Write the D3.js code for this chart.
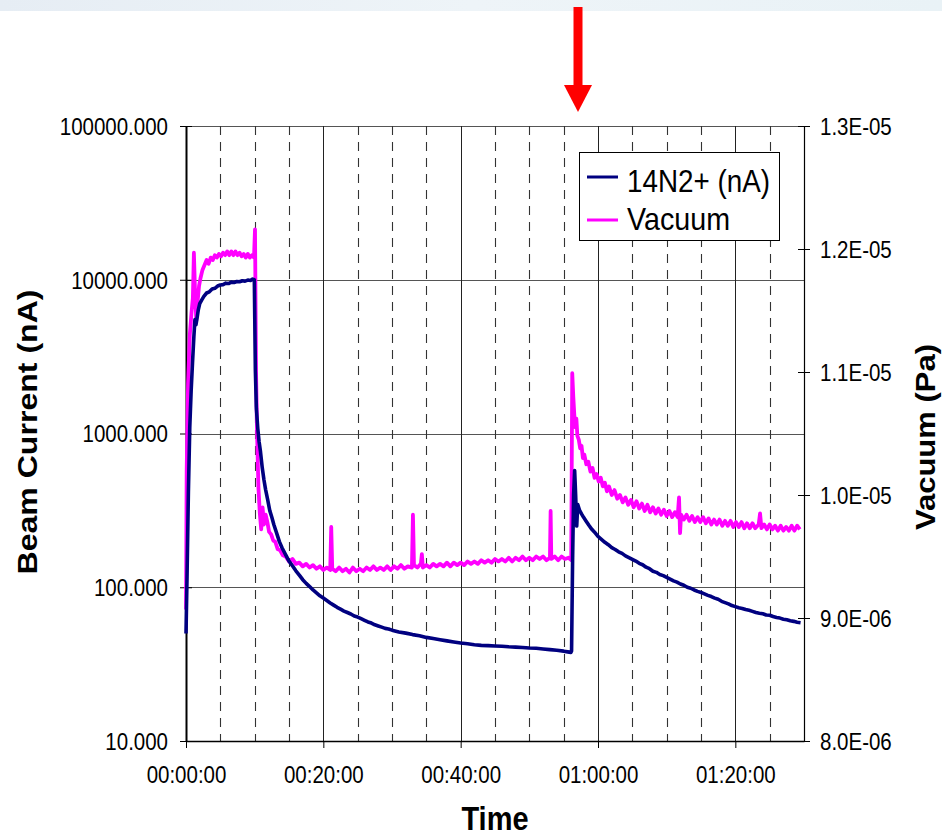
<!DOCTYPE html>
<html>
<head>
<meta charset="utf-8">
<script src="https://cdn.jsdelivr.net/npm/d3@7"></script>
<style>
  body { margin: 0; background: #fff; }
  svg text { font-family: "Liberation Sans", Arial, sans-serif; fill: #000; }
</style>
</head>
<body>
<div id="chart"></div>
<script>
// time in minutes, beam current in nA
var beamCurrent = [
  [0, 50], [0.15, 117], [0.35, 420], [0.55, 1100], [0.75, 1900], [0.95, 2900], [1.15, 4300], [1.3, 5500],
  [1.45, 5100], [1.6, 5600], [1.8, 6400], [2.0, 7000], [2.3, 7400], [2.6, 7800], [3.0, 8200], [3.4, 8350],
  [3.8, 8700], [4.2, 8800], [4.6, 9100], [5.0, 9250], [5.4, 9300], [5.8, 9500], [6.2, 9450], [6.6, 9650],
  [7.0, 9600], [7.4, 9750], [7.8, 9700], [8.2, 9850], [8.6, 9800], [9.0, 9950], [9.4, 9900], [9.7, 10100],
  [9.95, 10000], [10.1, 2600], [10.25, 1450], [10.45, 1080], [10.65, 880], [10.85, 760], [11.1, 600],
  [11.35, 500], [11.6, 430], [11.9, 370], [12.2, 315], [12.5, 285], [12.8, 255], [13.2, 225], [13.6, 198],
  [14.0, 180], [14.5, 163], [15.0, 148], [15.5, 138], [16.0, 128], [16.5, 120], [17.0, 112], [17.5, 106],
  [18.0, 101], [18.5, 96], [19.0, 92], [19.5, 88], [20.0, 85], [20.5, 82], [21.0, 79], [21.5, 76.5],
  [22.0, 74], [22.5, 72], [23.0, 70], [23.5, 68.5], [24.0, 67], [24.5, 65], [25.0, 64], [25.5, 62.5],
  [26.0, 61], [26.5, 59.5], [27.0, 58.5], [27.5, 57], [28.0, 56], [28.5, 55], [29.0, 54], [29.5, 53.5],
  [30, 52.6], [31, 51.2], [32, 50.3], [33, 49.2], [34, 48.4], [35, 47.2], [36, 46.4], [37, 45.6],
  [38, 44.8], [39, 44.1], [40, 43.4], [41, 42.9], [42, 42.3], [43, 41.9], [44, 41.7], [45, 41.5],
  [46, 41.3], [47, 41.0], [48, 40.8], [49, 40.6], [50, 40.3], [51, 40.1], [52, 39.7], [53, 39.3],
  [54, 38.9], [55, 38.4], [55.6, 38.0], [56.05, 37.7], [56.15, 38.5], [56.3, 150], [56.45, 400],
  [56.6, 575], [56.75, 390], [56.9, 250], [57.05, 345], [57.3, 318], [57.6, 300], [57.9, 285], [58.3, 268],
  [58.7, 252], [59.1, 238], [59.5, 228], [60.0, 214], [60.5, 205], [61.0, 196], [61.5, 189], [62.0, 181],
  [62.5, 176], [63.0, 170], [63.5, 166], [64.0, 160], [64.5, 156], [65.0, 152], [65.5, 148], [66.0, 143],
  [66.5, 140], [67.0, 135], [67.5, 132], [68.0, 127], [68.5, 125], [69.0, 121], [69.5, 119], [70.0, 116],
  [70.5, 113], [71.0, 110], [71.5, 108], [72.0, 105], [72.5, 103], [73.0, 100], [73.5, 98.5], [74.0, 96],
  [74.5, 94], [75.0, 92.5], [75.5, 90.5], [76.0, 88.5], [76.5, 87], [77.0, 85], [77.5, 83.5], [78.0, 81],
  [78.5, 79.5], [79.0, 78], [79.5, 76], [80.0, 74.8], [80.5, 73.5], [81.0, 72.8], [81.5, 71.6], [82.0, 70.8],
  [82.5, 69.7], [83.0, 68.5], [83.5, 67.8], [84.0, 67.2], [84.5, 66], [85.0, 65.8], [85.5, 64.5], [86.0, 63.6],
  [86.5, 63], [87.0, 62], [87.5, 61.4], [88.0, 60.5], [88.5, 60], [89.0, 59.2], [89.5, 58.8]
];

// time in minutes, vacuum in Pa
var vacuum = [
  [0, 9.07e-6], [0.1, 1.02e-5], [0.3, 1.09e-5], [0.55, 1.13e-5], [0.8, 1.148e-5], [1.0, 1.16e-5],
  [1.15, 1.197e-5], [1.3, 1.168e-5], [1.5, 1.142e-5], [1.7, 1.158e-5], [1.9, 1.17e-5], [2.1, 1.176e-5],
  [2.4, 1.183e-5], [2.7, 1.187e-5], [3.0, 1.191e-5], [3.3, 1.188e-5], [3.6, 1.193e-5], [3.9, 1.191e-5],
  [4.2, 1.195e-5], [4.5, 1.193e-5], [4.8, 1.196e-5], [5.1, 1.194e-5], [5.4, 1.197e-5], [5.7, 1.195e-5],
  [6.0, 1.198e-5], [6.3, 1.195e-5], [6.6, 1.198e-5], [6.9, 1.195e-5], [7.2, 1.198e-5], [7.5, 1.195e-5],
  [7.8, 1.197e-5], [8.1, 1.194e-5], [8.4, 1.196e-5], [8.7, 1.193e-5], [9.0, 1.196e-5], [9.3, 1.193e-5],
  [9.6, 1.195e-5], [9.9, 1.193e-5], [10.05, 1.216e-5], [10.2, 1.1e-5], [10.35, 1.05e-5], [10.55, 1.006e-5],
  [10.75, 9.85e-6], [10.95, 9.72e-6], [11.15, 9.9e-6], [11.35, 9.76e-6], [11.6, 9.84e-6], [11.85, 9.78e-6],
  [12.1, 9.7e-6], [12.4, 9.68e-6], [12.7, 9.63e-6], [13.0, 9.62e-6], [13.35, 9.56e-6], [13.7, 9.55e-6],
  [14.1, 9.51e-6], [14.5, 9.5e-6], [15.0, 9.46e-6], [15.5, 9.48e-6], [16.0, 9.44e-6], [16.5, 9.45e-6],
  [17.0, 9.42e-6], [17.5, 9.44e-6], [18.0, 9.41e-6], [18.5, 9.43e-6], [19.0, 9.4e-6], [19.5, 9.42e-6],
  [20.0, 9.39e-6], [20.5, 9.41e-6], [21.0, 9.39e-6], [21.15, 9.74e-6], [21.3, 9.4e-6], [21.8, 9.38e-6],
  [22.3, 9.41e-6], [22.8, 9.38e-6], [23.3, 9.4e-6], [23.8, 9.37e-6], [24.3, 9.41e-6], [24.8, 9.38e-6],
  [25.3, 9.4e-6], [25.8, 9.38e-6], [26.3, 9.41e-6], [26.8, 9.39e-6], [27.3, 9.42e-6], [27.8, 9.39e-6],
  [28.3, 9.41e-6], [28.8, 9.39e-6], [29.3, 9.42e-6], [29.8, 9.39e-6], [30.3, 9.42e-6], [30.8, 9.4e-6],
  [31.3, 9.43e-6], [31.8, 9.4e-6], [32.3, 9.42e-6], [32.9, 9.41e-6], [33.05, 9.84e-6], [33.2, 9.43e-6],
  [33.7, 9.41e-6], [34.2, 9.44e-6], [34.35, 9.52e-6], [34.5, 9.41e-6], [35.0, 9.43e-6], [35.5, 9.41e-6],
  [36.0, 9.44e-6], [36.5, 9.42e-6], [37.0, 9.44e-6], [37.5, 9.42e-6], [38.0, 9.45e-6], [38.5, 9.42e-6],
  [39.0, 9.45e-6], [39.5, 9.43e-6], [40.0, 9.45e-6], [40.5, 9.43e-6], [41.0, 9.46e-6], [41.5, 9.44e-6],
  [42.0, 9.46e-6], [42.5, 9.44e-6], [43.0, 9.47e-6], [43.5, 9.45e-6], [44.0, 9.47e-6], [44.5, 9.45e-6],
  [45.0, 9.48e-6], [45.5, 9.46e-6], [46.0, 9.48e-6], [46.5, 9.46e-6], [47.0, 9.49e-6], [47.5, 9.46e-6],
  [48.0, 9.49e-6], [48.5, 9.47e-6], [49.0, 9.5e-6], [49.5, 9.47e-6], [50.0, 9.49e-6], [50.5, 9.47e-6],
  [51.0, 9.5e-6], [51.5, 9.48e-6], [52.0, 9.5e-6], [52.5, 9.47e-6], [53.0, 9.49e-6], [53.1, 9.87e-6],
  [53.2, 9.48e-6], [53.7, 9.5e-6], [54.2, 9.47e-6], [54.7, 9.5e-6], [55.2, 9.48e-6], [55.7, 9.49e-6],
  [56.1, 9.47e-6], [56.25, 1.099e-5], [56.4, 1.08e-5], [56.55, 1.065e-5], [56.7, 1.055e-5], [56.85, 1.062e-5],
  [57.0, 1.048e-5], [57.2, 1.045e-5], [57.4, 1.038e-5], [57.6, 1.04e-5], [57.8, 1.03e-5], [58.0, 1.033e-5],
  [58.3, 1.025e-5], [58.6, 1.027e-5], [58.9, 1.019e-5], [59.2, 1.022e-5], [59.5, 1.014e-5], [59.8, 1.017e-5],
  [60.1, 1.011e-5], [60.4, 1.014e-5], [60.7, 1.007e-5], [61.0, 1.01e-5], [61.3, 1.003e-5], [61.6, 1.007e-5],
  [62.0, 1.0e-5], [62.4, 1.004e-5], [62.8, 9.97e-6], [63.2, 1.0e-5], [63.6, 9.94e-6], [64.0, 9.98e-6],
  [64.4, 9.92e-6], [64.8, 9.96e-6], [65.2, 9.9e-6], [65.6, 9.95e-6], [66.0, 9.89e-6], [66.4, 9.93e-6],
  [66.8, 9.87e-6], [67.2, 9.92e-6], [67.6, 9.86e-6], [68.0, 9.9e-6], [68.4, 9.85e-6], [68.8, 9.89e-6],
  [69.2, 9.84e-6], [69.6, 9.88e-6], [70.0, 9.83e-6], [70.4, 9.87e-6], [70.8, 9.82e-6], [71.2, 9.86e-6],
  [71.6, 9.82e-6], [71.8, 9.98e-6], [71.95, 9.69e-6], [72.1, 9.84e-6], [72.5, 9.8e-6], [72.9, 9.84e-6],
  [73.3, 9.79e-6], [73.7, 9.83e-6], [74.1, 9.78e-6], [74.5, 9.82e-6], [74.9, 9.78e-6], [75.3, 9.82e-6],
  [75.7, 9.77e-6], [76.1, 9.81e-6], [76.5, 9.76e-6], [76.9, 9.8e-6], [77.3, 9.76e-6], [77.7, 9.8e-6],
  [78.1, 9.75e-6], [78.5, 9.79e-6], [78.9, 9.75e-6], [79.3, 9.79e-6], [79.7, 9.74e-6], [80.1, 9.78e-6],
  [80.5, 9.74e-6], [80.9, 9.78e-6], [81.3, 9.73e-6], [81.7, 9.77e-6], [82.1, 9.73e-6], [82.5, 9.77e-6],
  [82.9, 9.73e-6], [83.4, 9.76e-6], [83.6, 9.85e-6], [83.8, 9.73e-6], [84.2, 9.76e-6], [84.6, 9.72e-6],
  [85.0, 9.76e-6], [85.4, 9.72e-6], [85.8, 9.75e-6], [86.2, 9.71e-6], [86.6, 9.75e-6], [87.0, 9.71e-6],
  [87.4, 9.74e-6], [87.8, 9.71e-6], [88.2, 9.75e-6], [88.6, 9.71e-6], [89.0, 9.75e-6], [89.4, 9.72e-6]
];

// axis ticks and labels
var leftTicks = [10, 100, 1000, 10000, 100000];
var rightTicks = [8e-6, 9e-6, 1e-5, 1.1e-5, 1.2e-5, 1.3e-5];
var rightLabels = ["8.0E-06", "9.0E-06", "1.0E-05", "1.1E-05", "1.2E-05", "1.3E-05"];
var timeTicks = [0, 20, 40, 60, 80];
var timeLabels = ["00:00:00", "00:20:00", "00:40:00", "01:00:00", "01:20:00"];
var minorTimes = [5, 10, 15, 25, 30, 35, 45, 50, 55, 65, 70, 75, 85];
var seriesNames = ["14N2+ (nA)", "Vacuum"];
var seriesColors = ["#000080", "#ff00ff"];

var W = 942, H = 838;
var plot = { left: 186, right: 804, top: 126, bottom: 741 };
var stretch = 1.15; // the source picture is a bit taller than wide

var svg = d3.select("#chart")
  .append("svg")
  .attr("width", W)
  .attr("height", H);

// slide banner at the top
var grad = svg.append("defs").append("linearGradient").attr("id", "band");
grad.append("stop").attr("offset", "0%").attr("stop-color", "#e6edf4");
grad.append("stop").attr("offset", "50%").attr("stop-color", "#eef4f8");
grad.append("stop").attr("offset", "100%").attr("stop-color", "#e9f2f6");
svg.append("rect").attr("x", 0).attr("y", 0).attr("width", W).attr("height", 11).attr("fill", "url(#band)");

// scales
var x = d3.scaleLinear().domain([0, 90]).range([plot.left, plot.right]);
var yLeft = d3.scaleLog().domain([10, 100000]).range([plot.bottom, plot.top]);
var yRight = d3.scaleLinear().domain([8e-6, 1.3e-5]).range([plot.bottom, plot.top]);

// gridlines
var grid = svg.append("g").attr("class", "grid");
grid.selectAll(".hgrid")
  .data(leftTicks.slice(1))
  .join("line")
  .attr("x1", plot.left).attr("x2", plot.right)
  .attr("y1", d => Math.round(yLeft(d)) + 0.5)
  .attr("y2", d => Math.round(yLeft(d)) + 0.5)
  .attr("stroke", "#555").attr("stroke-width", 1);

grid.selectAll(".minor")
  .data(minorTimes)
  .join("line")
  .attr("x1", d => Math.round(x(d)) + 0.5).attr("x2", d => Math.round(x(d)) + 0.5)
  .attr("y1", plot.top).attr("y2", plot.bottom)
  .attr("stroke", "#333").attr("stroke-width", 1.1)
  .attr("stroke-dasharray", "9,7");

grid.selectAll(".major")
  .data(timeTicks.slice(1))
  .join("line")
  .attr("x1", d => Math.round(x(d)) + 0.5).attr("x2", d => Math.round(x(d)) + 0.5)
  .attr("y1", plot.top).attr("y2", plot.bottom)
  .attr("stroke", "#222").attr("stroke-width", 1);

// axes
var fontSize = "20.5px";

var leftAxis = svg.append("g")
  .attr("transform", "translate(" + plot.left + ",0)")
  .call(d3.axisLeft(yLeft).tickValues(leftTicks).tickFormat(d3.format(".3f")).tickSizeInner(6).tickSizeOuter(0));
leftAxis.select(".domain").attr("stroke", "#000").attr("stroke-width", 2);
leftAxis.selectAll(".tick line").attr("x1", 6).attr("stroke", "#000");
leftAxis.selectAll(".tick text")
  .attr("x", -18).attr("dy", "0.35em")
  .attr("transform", "scale(1," + stretch + ")")
  .style("font-size", fontSize);

var rightAxis = svg.append("g")
  .attr("transform", "translate(" + plot.right + ",0)")
  .call(d3.axisRight(yRight).tickValues(rightTicks).tickFormat((d, i) => rightLabels[i]).tickSizeInner(6).tickSizeOuter(0));
rightAxis.select(".domain").attr("stroke", "#000").attr("stroke-width", 1.2);
rightAxis.selectAll(".tick line").attr("x1", -6).attr("stroke", "#000");
rightAxis.selectAll(".tick text")
  .attr("x", 16).attr("dy", "0.35em")
  .attr("transform", "scale(1," + stretch + ")")
  .style("font-size", fontSize);

var bottomAxis = svg.append("g")
  .attr("transform", "translate(0," + plot.bottom + ")")
  .call(d3.axisBottom(x).tickValues(timeTicks).tickFormat((d, i) => timeLabels[i]).tickSizeInner(7).tickSizeOuter(0));
bottomAxis.select(".domain").attr("stroke", "#000").attr("stroke-width", 1.6);
bottomAxis.selectAll(".tick line").attr("stroke", "#000");
bottomAxis.selectAll(".tick text")
  .attr("y", 42 / stretch).attr("dy", 0)
  .attr("transform", "scale(1," + stretch + ")")
  .style("font-size", fontSize);

// axis titles
svg.append("text")
  .attr("transform", "translate(37,432) rotate(-90)")
  .attr("text-anchor", "middle")
  .attr("textLength", 285).attr("lengthAdjust", "spacingAndGlyphs")
  .style("font-size", "27px").style("font-weight", "bold")
  .text("Beam Current (nA)");

svg.append("text")
  .attr("transform", "translate(935,437) rotate(-90)")
  .attr("text-anchor", "middle")
  .attr("textLength", 186).attr("lengthAdjust", "spacingAndGlyphs")
  .style("font-size", "27px").style("font-weight", "bold")
  .text("Vacuum (Pa)");

svg.append("text")
  .attr("transform", "translate(" + (plot.left + plot.right) / 2 + ",830) scale(1," + stretch + ")")
  .attr("text-anchor", "middle")
  .style("font-size", "29px").style("font-weight", "bold")
  .text("Time");

// data lines
var beamLine = d3.line()
  .x(d => x(d[0]))
  .y(d => yLeft(d[1]));

var vacLine = d3.line()
  .x(d => x(d[0]))
  .y(d => yRight(d[1]));

svg.append("path")
  .datum(vacuum)
  .attr("fill", "none")
  .attr("stroke", seriesColors[1])
  .attr("stroke-width", 3.8)
  .attr("stroke-linejoin", "round")
  .attr("d", vacLine);

svg.append("path")
  .datum(beamCurrent)
  .attr("fill", "none")
  .attr("stroke", seriesColors[0])
  .attr("stroke-width", 3.6)
  .attr("stroke-linejoin", "round")
  .attr("d", beamLine);

// legend
var legend = svg.append("g").attr("transform", "translate(579,152)");
legend.append("rect")
  .attr("x", 0.5).attr("y", 0.5)
  .attr("width", 200).attr("height", 88)
  .attr("fill", "#fff").attr("stroke", "#000").attr("stroke-width", 1);

var legendRows = [
  { name: seriesNames[0], color: seriesColors[0], lineY: 25, textY: 40, len: 143 },
  { name: seriesNames[1], color: seriesColors[1], lineY: 68, textY: 78, len: 103 }
];
legend.selectAll(".row line")
  .data(legendRows)
  .join("line")
  .attr("x1", 8).attr("x2", 39)
  .attr("y1", d => d.lineY).attr("y2", d => d.lineY)
  .attr("stroke", d => d.color).attr("stroke-width", 3);
legend.selectAll(".row text")
  .data(legendRows)
  .join("text")
  .attr("transform", d => "translate(48," + d.textY + ") scale(1," + stretch + ")")
  .attr("textLength", d => d.len).attr("lengthAdjust", "spacingAndGlyphs")
  .style("font-size", "28px")
  .text(d => d.name);

// red arrow above the plot
svg.append("rect")
  .attr("x", 573.5).attr("y", 7)
  .attr("width", 9).attr("height", 80)
  .attr("fill", "#ff0000");
svg.append("path")
  .attr("d", "M564,85 L592,85 L578,112 Z")
  .attr("fill", "#ff0000");
</script>
</body>
</html>
